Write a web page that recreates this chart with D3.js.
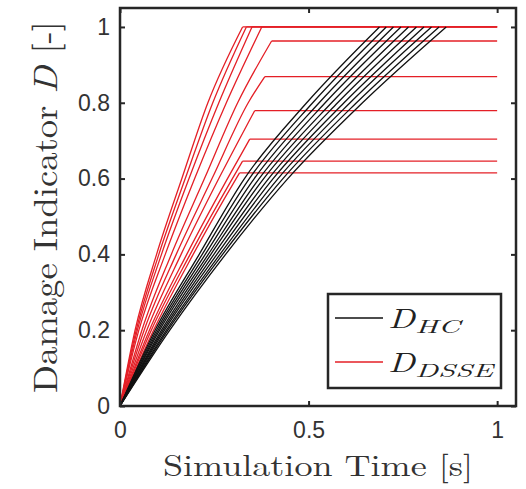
<!DOCTYPE html>
<html>
<head>
<meta charset="utf-8">
<script src="https://cdn.jsdelivr.net/npm/d3@7"></script>
<style>
  body { margin: 0; background: #fff; }
  svg { display: block; }
</style>
</head>
<body>
<div id="chart"></div>
<script>
var levels = [0.2, 0.4, 0.6, 0.8, 1.0];

// D_HC: time [s] at which each run reaches the levels above
var hcTimes = [
  [0.093, 0.210, 0.330, 0.495, 0.688],
  [0.097, 0.218, 0.343, 0.511, 0.706],
  [0.101, 0.226, 0.356, 0.528, 0.725],
  [0.105, 0.234, 0.369, 0.544, 0.745],
  [0.110, 0.241, 0.381, 0.561, 0.765],
  [0.114, 0.249, 0.394, 0.577, 0.786],
  [0.118, 0.257, 0.406, 0.594, 0.806],
  [0.123, 0.265, 0.419, 0.610, 0.826],
  [0.127, 0.272, 0.432, 0.627, 0.846],
  [0.132, 0.280, 0.445, 0.643, 0.865]
];

// D_DSSE: times at the levels (as far as the curve rises), then knee and plateau
var dsseTimes = [
  [0.040, 0.097, 0.164, 0.233],
  [0.043, 0.103, 0.173, 0.246],
  [0.046, 0.110, 0.183, 0.262],
  [0.050, 0.120, 0.198, 0.282],
  [0.058, 0.136, 0.224, 0.312],
  [0.064, 0.149, 0.244, 0.340],
  [0.071, 0.162, 0.262],
  [0.078, 0.177, 0.285],
  [0.083, 0.186, 0.298],
  [0.089, 0.194, 0.308]
];
var dsseKneeT = [0.325, 0.335, 0.350, 0.376, 0.402, 0.384, 0.357, 0.344, 0.325, 0.317];
var dsseKneeD = [1.0, 1.0, 1.0, 1.0, 0.963, 0.869, 0.779, 0.704, 0.646, 0.615];
var tEnd = 1;

var xTicks = [0, 0.5, 1];
var yTicks = [0, 0.2, 0.4, 0.6, 0.8, 1];

var width = 526, height = 489;
var margin = {top: 8, right: 10, bottom: 83, left: 120};

var svg = d3.select("#chart").append("svg")
  .attr("width", width)
  .attr("height", height);

var x = d3.scaleLinear().domain([0, 1.05]).range([margin.left, width - margin.right]);
var y = d3.scaleLinear().domain([0, 1.05]).range([height - margin.bottom, margin.top]);

var axisColor = "#262626";
var red = "#e41f26";

var curve = d3.line()
  .curve(d3.curveMonotoneX)
  .x(function (d) { return x(d[0]); })
  .y(function (d) { return y(d[1]); });

var straight = d3.line()
  .x(function (d) { return x(d[0]); })
  .y(function (d) { return y(d[1]); });

// red curves first, black drawn on top
dsseTimes.forEach(function (ts, i) {
  var pts = [[0, 0]];
  ts.forEach(function (t, j) { pts.push([t, levels[j]]); });
  pts.push([dsseKneeT[i], dsseKneeD[i]]);
  svg.append("path")
    .attr("d", curve(pts))
    .attr("fill", "none")
    .attr("stroke", red)
    .attr("stroke-width", 1.3);
  svg.append("path")
    .attr("d", straight([[dsseKneeT[i], dsseKneeD[i]], [tEnd, dsseKneeD[i]]]))
    .attr("fill", "none")
    .attr("stroke", red)
    .attr("stroke-width", 1.3);
});

hcTimes.forEach(function (ts) {
  var pts = [[0, 0]];
  ts.forEach(function (t, j) { pts.push([t, levels[j]]); });
  svg.append("path")
    .attr("d", curve(pts))
    .attr("fill", "none")
    .attr("stroke", "#111")
    .attr("stroke-width", 1.3);
});

// axes, ticks inward like MATLAB
var fmt = function (d) { return d3.format("")(d); };

var gx = svg.append("g")
  .attr("transform", "translate(0," + y(0) + ")")
  .call(d3.axisBottom(x).tickValues(xTicks).tickFormat(fmt).tickSizeInner(-5).tickSizeOuter(0).tickPadding(16));
var gxTop = svg.append("g")
  .attr("transform", "translate(0," + y(1.05) + ")")
  .call(d3.axisTop(x).tickValues(xTicks).tickFormat("").tickSizeInner(-5).tickSizeOuter(0));
var gy = svg.append("g")
  .attr("transform", "translate(" + x(0) + ",0)")
  .call(d3.axisLeft(y).tickValues(yTicks).tickFormat(fmt).tickSizeInner(-5).tickSizeOuter(0).tickPadding(10));
var gyRight = svg.append("g")
  .attr("transform", "translate(" + x(1.05) + ",0)")
  .call(d3.axisRight(y).tickValues(yTicks).tickFormat("").tickSizeInner(-5).tickSizeOuter(0));

[gx, gxTop, gy, gyRight].forEach(function (g) {
  g.select(".domain").remove();
  g.selectAll("line").attr("stroke", axisColor).attr("stroke-width", 2);
  g.selectAll("text")
    .attr("fill", "#333")
    .style("font-family", "'Liberation Sans', Arial, sans-serif")
    .style("font-size", "23px");
});

svg.append("rect")
  .attr("x", x(0))
  .attr("y", y(1.05))
  .attr("width", x(1.05) - x(0))
  .attr("height", y(0) - y(1.05))
  .attr("fill", "none")
  .attr("stroke", axisColor)
  .attr("stroke-width", 2.5);

// axis labels
var serif = "'Latin Modern Roman', 'Liberation Serif', 'Times New Roman', serif";

svg.append("text")
  .attr("x", (x(0) + x(1.05)) / 2)
  .attr("y", 476)
  .attr("text-anchor", "middle")
  .attr("fill", "#333")
  .attr("textLength", 310)
  .attr("lengthAdjust", "spacingAndGlyphs")
  .style("font-family", serif)
  .style("font-size", "30px")
  .text("Simulation Time [s]");

var yl = svg.append("text")
  .attr("transform", "translate(57," + ((y(0) + y(1.05)) / 2) + ") rotate(-90)")
  .attr("text-anchor", "middle")
  .attr("fill", "#333")
  .attr("textLength", 372)
  .attr("lengthAdjust", "spacingAndGlyphs")
  .style("font-family", serif)
  .style("font-size", "34px");
yl.append("tspan").text("Damage Indicator ");
yl.append("tspan").style("font-style", "italic").text("D");
yl.append("tspan").text(" [-]");

// legend
var legend = svg.append("g");
legend.append("rect")
  .attr("x", 328).attr("y", 294)
  .attr("width", 173).attr("height", 94)
  .attr("fill", "#fff")
  .attr("stroke", axisColor)
  .attr("stroke-width", 2.5);

var legendItems = [
  {sub: "HC", color: "#111", y: 318, subLen: 45},
  {sub: "DSSE", color: red, y: 362, subLen: 78}
];
legendItems.forEach(function (d) {
  legend.append("line")
    .attr("x1", 335).attr("x2", 383)
    .attr("y1", d.y).attr("y2", d.y)
    .attr("stroke", d.color)
    .attr("stroke-width", 1.3);
  legend.append("text")
    .attr("x", 388).attr("y", d.y + 10)
    .attr("fill", "#222")
    .attr("textLength", 27)
    .attr("lengthAdjust", "spacingAndGlyphs")
    .style("font-family", serif)
    .style("font-style", "italic")
    .style("font-size", "28px")
    .text("D");
  legend.append("text")
    .attr("x", 415).attr("y", d.y + 15)
    .attr("fill", "#222")
    .attr("textLength", d.subLen)
    .attr("lengthAdjust", "spacingAndGlyphs")
    .style("font-family", serif)
    .style("font-style", "italic")
    .style("font-size", "19px")
    .text(d.sub);
});
</script>
</body>
</html>
